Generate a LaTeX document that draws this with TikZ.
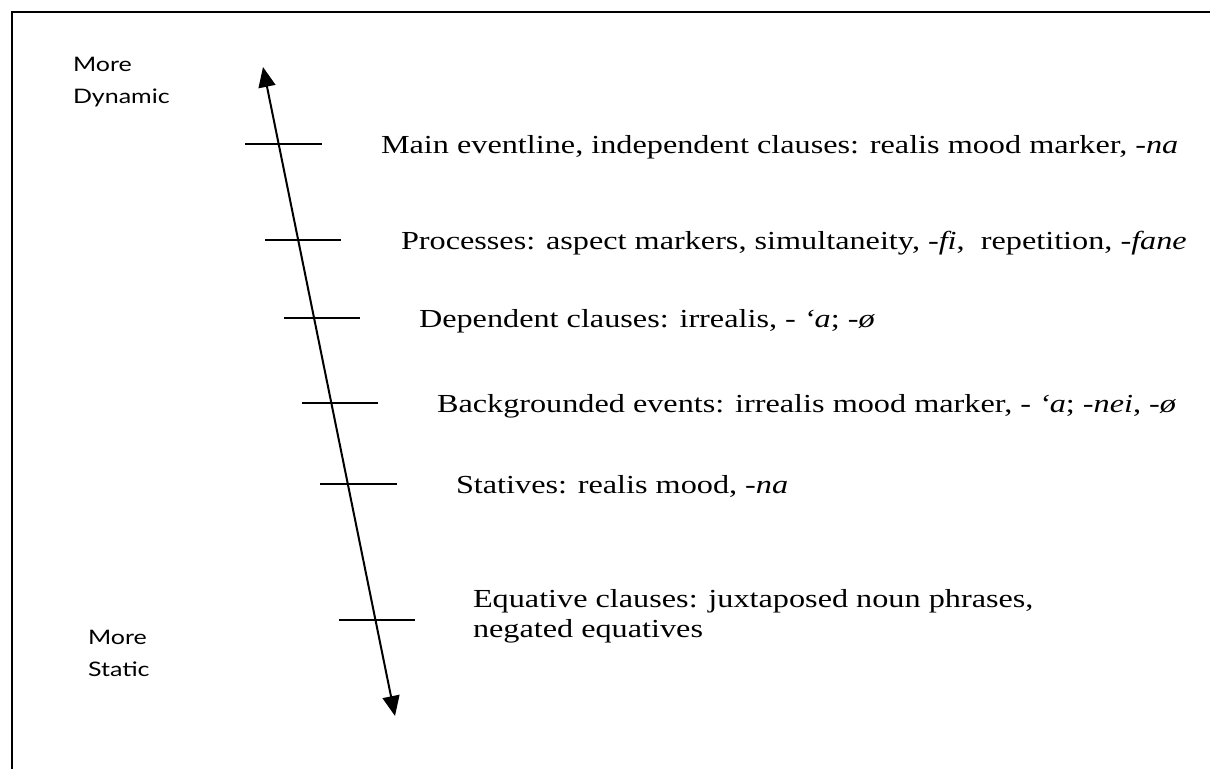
\documentclass[tikz,border=0pt]{standalone}
\usepackage{fontspec}
\setmainfont{Liberation Serif}[FakeStretch=1.24]
\newfontfamily\labelfont{Lato}[FakeStretch=1.25]
\usetikzlibrary{arrows.meta}
\begin{document}
\begin{tikzpicture}[x=1pt,y=-1pt,
  line width=2pt,
  item/.style={anchor=base west,inner sep=0pt,font=\fontsize{26}{30}\selectfont},
  side/.style={anchor=base west,inner sep=0pt,align=left,font=\labelfont\fontsize{20}{32}\selectfont},
  tick/.style={line width=1.8pt},
  tip/.style={Triangle[length=20pt,width=17pt]}]
\useasboundingbox (0,0) rectangle (1210,769);
\draw (12,769) -- (12,12) -- (1210,12);
% axis
\coordinate (top) at (263,67);
\coordinate (bot) at (395,716);
\draw[{Triangle[length=20pt,width=17pt]}-{Triangle[length=20pt,width=17pt]}] (top) -- (bot);
% ticks
\coordinate (t1a) at (245,144); \coordinate (t1b) at (322,144);
\coordinate (t2a) at (265,240); \coordinate (t2b) at (341,240);
\coordinate (t3a) at (284,318); \coordinate (t3b) at (360,318);
\coordinate (t4a) at (302,403); \coordinate (t4b) at (378,403);
\coordinate (t5a) at (320,484); \coordinate (t5b) at (397,484);
\coordinate (t6a) at (339,620); \coordinate (t6b) at (415,620);
\foreach \i in {1,...,6} \draw[tick] (t\i a) -- (t\i b);
% labels
\node[side] (dyn) at (72,103) {More\\Dynamic};
\node[side] (sta) at (87,676) {More\\Static};
\node[item] (l1) at (380,153) {Main eventline, independent clauses: realis mood marker, \textit{-na}};
\node[item] (l2) at (400,249) {Processes: aspect markers, simultaneity, \textit{-fi}, \ repetition, \textit{-fane}};
\node[item] (l3) at (418,327) {Dependent clauses: irrealis, - \textit{‘a}; \textit{-ø}};
\node[item] (l4) at (436,412) {Backgrounded events: irrealis mood marker, - \textit{‘a}; \textit{-nei}, \textit{-ø}};
\node[item] (l5) at (455,493) {Statives: realis mood, \textit{-na}};
\node[item,align=left] (l6) at (472,637) {Equative clauses: juxtaposed noun phrases,\\negated equatives};
\end{tikzpicture}
\end{document}
